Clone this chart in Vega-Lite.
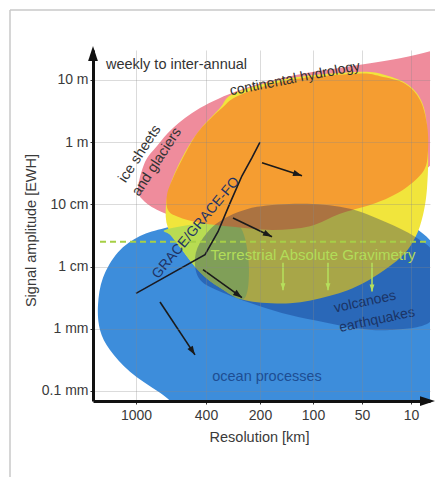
{
  "$schema": "https://vega.github.io/schema/vega-lite/v6.json",
  "width": 337,
  "height": 351,
  "autosize": {"type": "none"},
  "padding": {"left": 93, "top": 50, "right": 5, "bottom": 76},
  "background": "white",
  "config": {
    "font": "Liberation Sans, Arial, sans-serif",
    "view": {"stroke": null}
  },
  "datasets": {
    "regions": [
      {"region": "ocean", "i": 1, "res_pos": 5, "log_amp": -2.62},
      {"region": "ocean", "i": 2, "res_pos": 10, "log_amp": -2.18},
      {"region": "ocean", "i": 3, "res_pos": 25, "log_amp": -1.77},
      {"region": "ocean", "i": 4, "res_pos": 47, "log_amp": -1.51},
      {"region": "ocean", "i": 5, "res_pos": 72, "log_amp": -1.38},
      {"region": "ocean", "i": 6, "res_pos": 107, "log_amp": -1.25},
      {"region": "ocean", "i": 7, "res_pos": 157, "log_amp": -1.15},
      {"region": "ocean", "i": 8, "res_pos": 217, "log_amp": -1.12},
      {"region": "ocean", "i": 9, "res_pos": 277, "log_amp": -1.19},
      {"region": "ocean", "i": 10, "res_pos": 322, "log_amp": -1.38},
      {"region": "ocean", "i": 11, "res_pos": 347, "log_amp": -1.89},
      {"region": "ocean", "i": 12, "res_pos": 352, "log_amp": -3.02},
      {"region": "ocean", "i": 13, "res_pos": 347, "log_amp": -4.14},
      {"region": "ocean", "i": 14, "res_pos": 327, "log_amp": -4.95},
      {"region": "ocean", "i": 15, "res_pos": 207, "log_amp": -5.11},
      {"region": "ocean", "i": 16, "res_pos": 107, "log_amp": -4.47},
      {"region": "ocean", "i": 17, "res_pos": 67, "log_amp": -4.03},
      {"region": "ocean", "i": 18, "res_pos": 37, "log_amp": -3.69},
      {"region": "ocean", "i": 19, "res_pos": 17, "log_amp": -3.34},
      {"region": "ocean", "i": 20, "res_pos": 7, "log_amp": -3.02},

      {"region": "ice", "i": 1, "res_pos": 45, "log_amp": -0.74},
      {"region": "ice", "i": 2, "res_pos": 52, "log_amp": -0.32},
      {"region": "ice", "i": 3, "res_pos": 64, "log_amp": -0.06},
      {"region": "ice", "i": 4, "res_pos": 80, "log_amp": 0.23},
      {"region": "ice", "i": 5, "res_pos": 107, "log_amp": 0.55},
      {"region": "ice", "i": 6, "res_pos": 147, "log_amp": 0.84},
      {"region": "ice", "i": 7, "res_pos": 197, "log_amp": 1.06},
      {"region": "ice", "i": 8, "res_pos": 257, "log_amp": 1.22},
      {"region": "ice", "i": 9, "res_pos": 307, "log_amp": 1.35},
      {"region": "ice", "i": 10, "res_pos": 342, "log_amp": 1.48},
      {"region": "ice", "i": 11, "res_pos": 367, "log_amp": 1.56},
      {"region": "ice", "i": 12, "res_pos": 377, "log_amp": 0.84},
      {"region": "ice", "i": 13, "res_pos": 362, "log_amp": 0.04},
      {"region": "ice", "i": 14, "res_pos": 332, "log_amp": -0.45},
      {"region": "ice", "i": 15, "res_pos": 297, "log_amp": -0.90},
      {"region": "ice", "i": 16, "res_pos": 262, "log_amp": -1.15},
      {"region": "ice", "i": 17, "res_pos": 207, "log_amp": -1.38},
      {"region": "ice", "i": 18, "res_pos": 147, "log_amp": -1.41},
      {"region": "ice", "i": 19, "res_pos": 102, "log_amp": -1.30},
      {"region": "ice", "i": 20, "res_pos": 67, "log_amp": -1.11},
      {"region": "ice", "i": 21, "res_pos": 50, "log_amp": -0.93},

      {"region": "hydro", "i": 1, "res_pos": 142, "log_amp": 0.79},
      {"region": "hydro", "i": 2, "res_pos": 197, "log_amp": 1.03},
      {"region": "hydro", "i": 3, "res_pos": 264, "log_amp": 1.13},
      {"region": "hydro", "i": 4, "res_pos": 292, "log_amp": 1.08},
      {"region": "hydro", "i": 5, "res_pos": 317, "log_amp": 0.90},
      {"region": "hydro", "i": 6, "res_pos": 331, "log_amp": 0.55},
      {"region": "hydro", "i": 7, "res_pos": 335, "log_amp": -0.13},
      {"region": "hydro", "i": 8, "res_pos": 334, "log_amp": -0.74},
      {"region": "hydro", "i": 9, "res_pos": 330, "log_amp": -1.17},
      {"region": "hydro", "i": 10, "res_pos": 322, "log_amp": -1.54},
      {"region": "hydro", "i": 11, "res_pos": 307, "log_amp": -1.86},
      {"region": "hydro", "i": 12, "res_pos": 272, "log_amp": -2.25},
      {"region": "hydro", "i": 13, "res_pos": 237, "log_amp": -2.47},
      {"region": "hydro", "i": 14, "res_pos": 197, "log_amp": -2.59},
      {"region": "hydro", "i": 15, "res_pos": 152, "log_amp": -2.54},
      {"region": "hydro", "i": 16, "res_pos": 127, "log_amp": -2.34},
      {"region": "hydro", "i": 17, "res_pos": 107, "log_amp": -2.09},
      {"region": "hydro", "i": 18, "res_pos": 89, "log_amp": -1.73},
      {"region": "hydro", "i": 19, "res_pos": 75, "log_amp": -1.38},
      {"region": "hydro", "i": 20, "res_pos": 73, "log_amp": -1.01},
      {"region": "hydro", "i": 21, "res_pos": 79, "log_amp": -0.61},
      {"region": "hydro", "i": 22, "res_pos": 92, "log_amp": -0.16},
      {"region": "hydro", "i": 23, "res_pos": 107, "log_amp": 0.20},
      {"region": "hydro", "i": 24, "res_pos": 127, "log_amp": 0.55},

      {"region": "hydro_ocean", "i": 1, "res_pos": 72, "log_amp": -1.41},
      {"region": "hydro_ocean", "i": 2, "res_pos": 102, "log_amp": -1.32},
      {"region": "hydro_ocean", "i": 3, "res_pos": 142, "log_amp": -1.28},
      {"region": "hydro_ocean", "i": 4, "res_pos": 155, "log_amp": -1.81},
      {"region": "hydro_ocean", "i": 5, "res_pos": 152, "log_amp": -2.50},
      {"region": "hydro_ocean", "i": 6, "res_pos": 127, "log_amp": -2.34},
      {"region": "hydro_ocean", "i": 7, "res_pos": 107, "log_amp": -2.09},
      {"region": "hydro_ocean", "i": 8, "res_pos": 89, "log_amp": -1.73},
      {"region": "hydro_ocean", "i": 9, "res_pos": 77, "log_amp": -1.49},

      {"region": "hydro_ice", "i": 1, "res_pos": 147, "log_amp": 0.76},
      {"region": "hydro_ice", "i": 2, "res_pos": 197, "log_amp": 1.00},
      {"region": "hydro_ice", "i": 3, "res_pos": 264, "log_amp": 1.10},
      {"region": "hydro_ice", "i": 4, "res_pos": 287, "log_amp": 1.06},
      {"region": "hydro_ice", "i": 5, "res_pos": 312, "log_amp": 0.94},
      {"region": "hydro_ice", "i": 6, "res_pos": 327, "log_amp": 0.68},
      {"region": "hydro_ice", "i": 7, "res_pos": 334, "log_amp": 0.28},
      {"region": "hydro_ice", "i": 8, "res_pos": 335, "log_amp": -0.13},
      {"region": "hydro_ice", "i": 9, "res_pos": 331, "log_amp": -0.45},
      {"region": "hydro_ice", "i": 10, "res_pos": 314, "log_amp": -0.72},
      {"region": "hydro_ice", "i": 11, "res_pos": 297, "log_amp": -0.88},
      {"region": "hydro_ice", "i": 12, "res_pos": 277, "log_amp": -1.01},
      {"region": "hydro_ice", "i": 13, "res_pos": 247, "log_amp": -1.15},
      {"region": "hydro_ice", "i": 14, "res_pos": 217, "log_amp": -1.35},
      {"region": "hydro_ice", "i": 15, "res_pos": 180, "log_amp": -1.41},
      {"region": "hydro_ice", "i": 16, "res_pos": 140, "log_amp": -1.36},
      {"region": "hydro_ice", "i": 17, "res_pos": 107, "log_amp": -1.30},
      {"region": "hydro_ice", "i": 18, "res_pos": 85, "log_amp": -1.20},
      {"region": "hydro_ice", "i": 19, "res_pos": 75, "log_amp": -1.09},
      {"region": "hydro_ice", "i": 20, "res_pos": 74, "log_amp": -0.85},
      {"region": "hydro_ice", "i": 21, "res_pos": 80, "log_amp": -0.58},
      {"region": "hydro_ice", "i": 22, "res_pos": 94, "log_amp": -0.13},
      {"region": "hydro_ice", "i": 23, "res_pos": 107, "log_amp": 0.20},
      {"region": "hydro_ice", "i": 24, "res_pos": 129, "log_amp": 0.55},

      {"region": "volcano", "i": 1, "res_pos": 102, "log_amp": -1.86},
      {"region": "volcano", "i": 2, "res_pos": 110, "log_amp": -1.54},
      {"region": "volcano", "i": 3, "res_pos": 129, "log_amp": -1.25},
      {"region": "volcano", "i": 4, "res_pos": 164, "log_amp": -1.04},
      {"region": "volcano", "i": 5, "res_pos": 214, "log_amp": -0.99},
      {"region": "volcano", "i": 6, "res_pos": 257, "log_amp": -1.07},
      {"region": "volcano", "i": 7, "res_pos": 292, "log_amp": -1.28},
      {"region": "volcano", "i": 8, "res_pos": 322, "log_amp": -1.52},
      {"region": "volcano", "i": 9, "res_pos": 342, "log_amp": -1.81},
      {"region": "volcano", "i": 10, "res_pos": 347, "log_amp": -2.38},
      {"region": "volcano", "i": 11, "res_pos": 337, "log_amp": -2.89},
      {"region": "volcano", "i": 12, "res_pos": 297, "log_amp": -3.02},
      {"region": "volcano", "i": 13, "res_pos": 264, "log_amp": -2.99},
      {"region": "volcano", "i": 14, "res_pos": 230, "log_amp": -2.89},
      {"region": "volcano", "i": 15, "res_pos": 197, "log_amp": -2.78},
      {"region": "volcano", "i": 16, "res_pos": 164, "log_amp": -2.62},
      {"region": "volcano", "i": 17, "res_pos": 130, "log_amp": -2.42},
      {"region": "volcano", "i": 18, "res_pos": 107, "log_amp": -2.21}
    ],
    "grace": [
      {"i": 1, "res_pos": 43, "log_amp": -2.43},
      {"i": 2, "res_pos": 112, "log_amp": -1.81},
      {"i": 3, "res_pos": 125, "log_amp": -1.44},
      {"i": 4, "res_pos": 137, "log_amp": -0.98},
      {"i": 5, "res_pos": 149, "log_amp": -0.54},
      {"i": 6, "res_pos": 159, "log_amp": -0.25},
      {"i": 7, "res_pos": 167, "log_amp": 0.00}
    ],
    "arrows": [
      {"id": 1, "res_pos": 169, "log_amp": -0.33, "res_pos_end": 209, "log_amp_end": -0.54},
      {"id": 2, "res_pos": 140, "log_amp": -1.22, "res_pos_end": 179, "log_amp_end": -1.52},
      {"id": 3, "res_pos": 110, "log_amp": -2.05, "res_pos_end": 149, "log_amp_end": -2.50},
      {"id": 4, "res_pos": 67, "log_amp": -2.57, "res_pos_end": 102, "log_amp_end": -3.42}
    ],
    "arrow_tips": [
      {"id": 1, "res_pos": 209, "log_amp": -0.54},
      {"id": 2, "res_pos": 179, "log_amp": -1.52},
      {"id": 3, "res_pos": 149, "log_amp": -2.50},
      {"id": 4, "res_pos": 102, "log_amp": -3.42}
    ],
    "gravimetry_arrows": [
      {"res_pos": 190, "log_amp": -1.94, "log_amp_end": -2.38},
      {"res_pos": 235, "log_amp": -1.94, "log_amp_end": -2.38},
      {"res_pos": 279, "log_amp": -1.94, "log_amp_end": -2.40}
    ],
    "gravimetry_tips": [
      {"res_pos": 190, "log_amp": -2.38},
      {"res_pos": 235, "log_amp": -2.38},
      {"res_pos": 279, "log_amp": -2.40}
    ],
    "threshold": [
      {"res_pos": 7, "res_pos_end": 337, "log_amp": -1.60}
    ],
    "axis_tips": [
      {"axis": "y", "res_pos": 0, "log_amp": 1.547},
      {"axis": "x", "res_pos": 342, "log_amp": -4.161}
    ],
    "frame": [
      {"edge": "left", "res_pos": -83, "log_amp": 2.125, "res_pos_end": -83, "log_amp_end": -5.5},
      {"edge": "top", "res_pos": -83, "log_amp": 2.125, "res_pos_end": 345, "log_amp_end": 2.125}
    ],
    "labels": [
      {"label": "weekly to inter-annual", "res_pos": 13, "log_amp": 1.24},
      {"label": "continental hydrology", "res_pos": 202, "log_amp": 1.02},
      {"label": "ice sheets", "res_pos": 47, "log_amp": -0.19},
      {"label": "and glaciers", "res_pos": 64, "log_amp": -0.32},
      {"label": "GRACE/GRACE-FO", "res_pos": 103, "log_amp": -1.38},
      {"label": "Terrestrial Absolute Gravimetry", "res_pos": 220, "log_amp": -1.81},
      {"label": "volcanoes", "res_pos": 272, "log_amp": -2.57},
      {"label": "earthquakes", "res_pos": 284, "log_amp": -2.86},
      {"label": "ocean processes", "res_pos": 174, "log_amp": -3.77}
    ]
  },
  "encoding": {
    "x": {
      "field": "res_pos",
      "type": "quantitative",
      "scale": {"domain": [0, 337], "nice": false, "zero": false},
      "axis": {
        "values": [43, 113, 167, 220, 269, 318],
        "labelExpr": "datum.value == 43 ? '1000' : datum.value == 113 ? '400' : datum.value == 167 ? '200' : datum.value == 220 ? '100' : datum.value == 269 ? '50' : '10'",
        "title": "Resolution [km]",
        "grid": true,
        "gridColor": "#888888",
        "gridOpacity": 0.3,
        "gridWidth": 1,
        "domainColor": "#111111",
        "domainWidth": 3,
        "tickColor": "#333333",
        "tickSize": 3,
        "labelFontSize": 14,
        "labelColor": "#3a3a3a",
        "labelPadding": 4,
        "titleFontSize": 14.5,
        "titleFontWeight": "normal",
        "titleColor": "#3a3a3a",
        "titleX": 166,
        "titleY": 36,
        "titleBaseline": "middle",
        "titleAlign": "center",
        "zindex": 1
      }
    },
    "y": {
      "field": "log_amp",
      "type": "quantitative",
      "scale": {"domain": [-4.161, 1.482], "nice": false, "zero": false},
      "axis": {
        "values": [1, 0, -1, -2, -3, -4],
        "labelExpr": "datum.value == 1 ? '10 m' : datum.value == 0 ? '1 m' : datum.value == -1 ? '10 cm' : datum.value == -2 ? '1 cm' : datum.value == -3 ? '1 mm' : '0.1 mm'",
        "title": "Signal amplitude [EWH]",
        "grid": true,
        "gridColor": "#888888",
        "gridOpacity": 0.3,
        "gridWidth": 1,
        "domainColor": "#111111",
        "domainWidth": 3,
        "tickColor": "#333333",
        "tickSize": 3,
        "labelFontSize": 14,
        "labelColor": "#3a3a3a",
        "labelPadding": 2,
        "titleFontSize": 14.5,
        "titleFontWeight": "normal",
        "titleColor": "#3a3a3a",
        "titleAngle": -90,
        "titleX": -62,
        "titleY": 180,
        "titleBaseline": "middle",
        "titleAlign": "center",
        "zindex": 1
      }
    }
  },
  "layer": [
    {"data": {"name": "regions"}, "transform": [{"filter": "datum.region === 'ocean'"}],
     "mark": {"type": "line", "interpolate": "cardinal-closed", "fill": "#3d8ddb", "strokeOpacity": 0, "clip": true},
     "encoding": {"order": {"field": "i", "type": "quantitative"}}},
    {"data": {"name": "regions"}, "transform": [{"filter": "datum.region === 'ice'"}],
     "mark": {"type": "line", "interpolate": "cardinal-closed", "fill": "#ef8c9c", "strokeOpacity": 0, "clip": true},
     "encoding": {"order": {"field": "i", "type": "quantitative"}}},
    {"data": {"name": "regions"}, "transform": [{"filter": "datum.region === 'hydro'"}],
     "mark": {"type": "line", "interpolate": "cardinal-closed", "fill": "#f1e53c", "strokeOpacity": 0, "clip": true},
     "encoding": {"order": {"field": "i", "type": "quantitative"}}},
    {"data": {"name": "regions"}, "transform": [{"filter": "datum.region === 'hydro_ocean'"}],
     "mark": {"type": "line", "interpolate": "cardinal-closed", "fill": "#b8dc52", "strokeOpacity": 0, "clip": true},
     "encoding": {"order": {"field": "i", "type": "quantitative"}}},
    {"data": {"name": "regions"}, "transform": [{"filter": "datum.region === 'hydro_ice'"}],
     "mark": {"type": "line", "interpolate": "cardinal-closed", "fill": "#f59d31", "strokeOpacity": 0, "clip": true},
     "encoding": {"order": {"field": "i", "type": "quantitative"}}},
    {"data": {"name": "regions"}, "transform": [{"filter": "datum.region === 'volcano'"}],
     "mark": {"type": "line", "interpolate": "cardinal-closed", "fill": "#001466", "fillOpacity": 0.3, "strokeOpacity": 0, "clip": true},
     "encoding": {"order": {"field": "i", "type": "quantitative"}}},
    {"data": {"name": "threshold"},
     "mark": {"type": "rule", "color": "#a6cf45", "strokeWidth": 2, "strokeDash": [6, 4]},
     "encoding": {"x2": {"field": "res_pos_end"}}},
    {"data": {"name": "gravimetry_arrows"},
     "mark": {"type": "rule", "color": "#b6e05c", "strokeWidth": 1.5},
     "encoding": {"y2": {"field": "log_amp_end"}}},
    {"data": {"name": "gravimetry_tips"},
     "mark": {"type": "point", "shape": "M0,0L0.7,2L-0.7,2Z", "size": 49, "angle": 180, "filled": true, "color": "#b6e05c", "opacity": 1, "strokeWidth": 0}},
    {"data": {"name": "grace"},
     "mark": {"type": "line", "color": "#1a1a22", "strokeWidth": 1.6, "interpolate": "linear"},
     "encoding": {"order": {"field": "i", "type": "quantitative"}}},
    {"data": {"name": "arrows"},
     "mark": {"type": "rule", "color": "#1a1a1a", "strokeWidth": 1.6},
     "encoding": {"x2": {"field": "res_pos_end"}, "y2": {"field": "log_amp_end"}}},
    {"data": {"name": "arrow_tips"}, "transform": [{"filter": "datum.id === 1"}],
     "mark": {"type": "point", "shape": "M0,0L0.7,2L-0.7,2Z", "size": 81, "angle": 108, "filled": true, "color": "#1a1a1a", "opacity": 1, "strokeWidth": 0}},
    {"data": {"name": "arrow_tips"}, "transform": [{"filter": "datum.id === 2"}],
     "mark": {"type": "point", "shape": "M0,0L0.7,2L-0.7,2Z", "size": 81, "angle": 116, "filled": true, "color": "#1a1a1a", "opacity": 1, "strokeWidth": 0}},
    {"data": {"name": "arrow_tips"}, "transform": [{"filter": "datum.id === 3"}],
     "mark": {"type": "point", "shape": "M0,0L0.7,2L-0.7,2Z", "size": 81, "angle": 126, "filled": true, "color": "#1a1a1a", "opacity": 1, "strokeWidth": 0}},
    {"data": {"name": "arrow_tips"}, "transform": [{"filter": "datum.id === 4"}],
     "mark": {"type": "point", "shape": "M0,0L0.7,2L-0.7,2Z", "size": 81, "angle": 147, "filled": true, "color": "#1a1a1a", "opacity": 1, "strokeWidth": 0}},
    {"data": {"name": "axis_tips"}, "transform": [{"filter": "datum.axis === 'y'"}],
     "mark": {"type": "point", "shape": "M0,0L0.65,2L-0.65,2Z", "size": 225, "angle": 0, "filled": true, "color": "#111111", "opacity": 1, "strokeWidth": 0}},
    {"data": {"name": "axis_tips"}, "transform": [{"filter": "datum.axis === 'x'"}],
     "mark": {"type": "point", "shape": "M0,0L0.65,2L-0.65,2Z", "size": 225, "angle": 90, "filled": true, "color": "#111111", "opacity": 1, "strokeWidth": 0}},
    {"data": {"name": "frame"},
     "mark": {"type": "rule", "color": "#c8c8c8", "strokeWidth": 1.5},
     "encoding": {"x2": {"field": "res_pos_end"}, "y2": {"field": "log_amp_end"}}},
    {"data": {"name": "labels"}, "transform": [{"filter": "datum.label === 'weekly to inter-annual'"}],
     "mark": {"type": "text", "align": "left", "baseline": "middle", "fontSize": 14.5, "color": "#333333"},
     "encoding": {"text": {"field": "label"}}},
    {"data": {"name": "labels"}, "transform": [{"filter": "datum.label === 'continental hydrology'"}],
     "mark": {"type": "text", "align": "center", "baseline": "middle", "fontSize": 14, "angle": -11, "color": "#2e2e2e"},
     "encoding": {"text": {"field": "label"}}},
    {"data": {"name": "labels"}, "transform": [{"filter": "datum.label === 'ice sheets' || datum.label === 'and glaciers'"}],
     "mark": {"type": "text", "align": "center", "baseline": "middle", "fontSize": 14.5, "angle": -57, "color": "#333333"},
     "encoding": {"text": {"field": "label"}}},
    {"data": {"name": "labels"}, "transform": [{"filter": "datum.label === 'GRACE/GRACE-FO'"}],
     "mark": {"type": "text", "align": "center", "baseline": "middle", "fontSize": 14, "angle": -50, "color": "#1f3264"},
     "encoding": {"text": {"field": "label"}}},
    {"data": {"name": "labels"}, "transform": [{"filter": "datum.label === 'Terrestrial Absolute Gravimetry'"}],
     "mark": {"type": "text", "align": "center", "baseline": "middle", "fontSize": 15, "color": "#b2dd58"},
     "encoding": {"text": {"field": "label"}}},
    {"data": {"name": "labels"}, "transform": [{"filter": "datum.label === 'volcanoes' || datum.label === 'earthquakes'"}],
     "mark": {"type": "text", "align": "center", "baseline": "middle", "fontSize": 14, "angle": -12, "color": "#1b3466"},
     "encoding": {"text": {"field": "label"}}},
    {"data": {"name": "labels"}, "transform": [{"filter": "datum.label === 'ocean processes'"}],
     "mark": {"type": "text", "align": "center", "baseline": "middle", "fontSize": 14.5, "color": "#1d4d93"},
     "encoding": {"text": {"field": "label"}}}
  ]
}
